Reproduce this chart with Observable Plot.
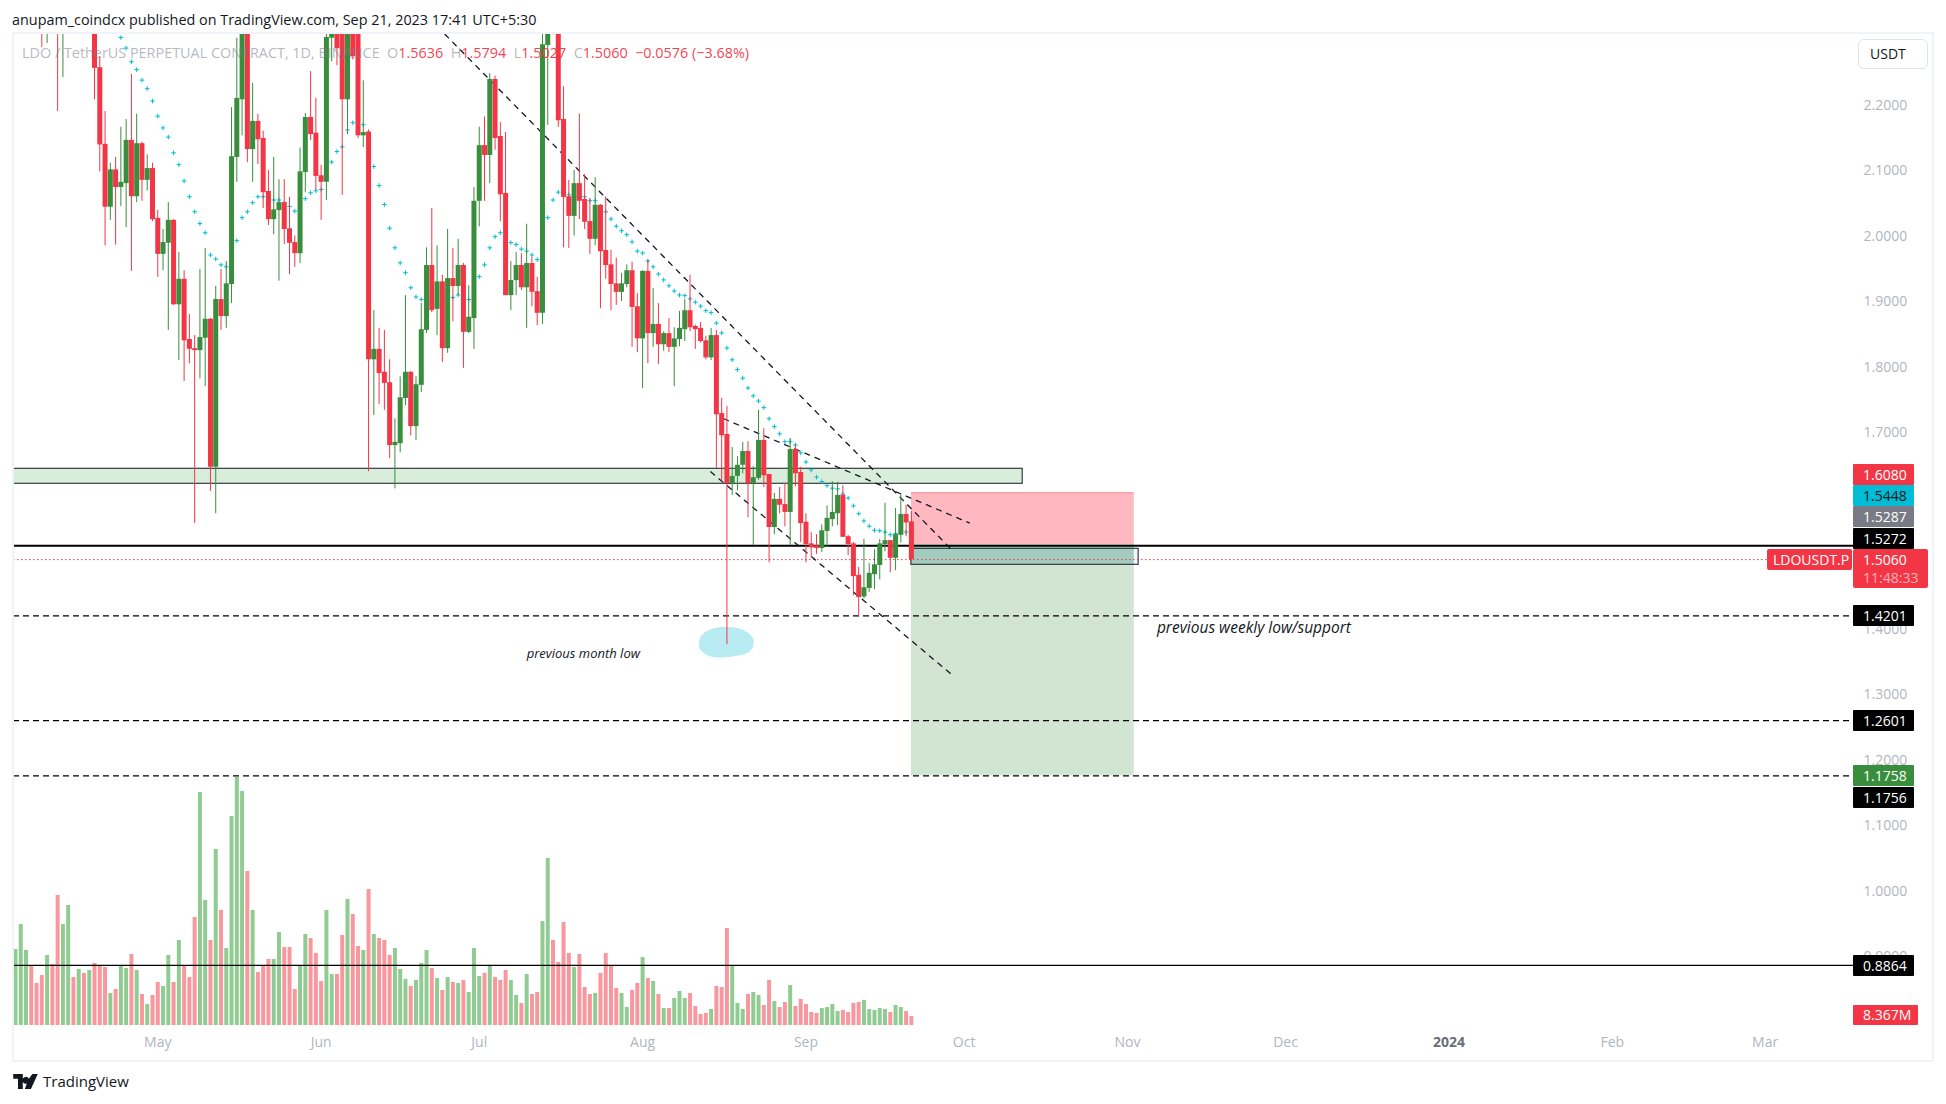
<!DOCTYPE html>
<html><head><meta charset="utf-8">
<script src="https://cdn.jsdelivr.net/npm/d3@7"></script>
<script src="https://cdn.jsdelivr.net/npm/@observablehq/plot@0.6"></script>
<style>
html,body{margin:0;padding:0;background:#fff;width:1946px;height:1104px;overflow:hidden;font-family:"Open Sans",sans-serif}
#title{position:absolute;left:12px;top:10px;font-size:14.4px;color:#131722;white-space:nowrap}
#frame{position:absolute;left:12px;top:32px;width:1918px;height:1026px;border:2px solid #f0f3fa;pointer-events:none}
#chart{position:absolute;left:0;top:33px}
#legend{position:absolute;left:22px;top:43px;font-size:14.4px;color:rgba(120,123,134,.55);white-space:pre}
#legend b{font-weight:400;color:rgba(242,54,69,.95)}
#usdt{position:absolute;left:1858px;top:39px;width:70px;height:30px;box-sizing:border-box;border:1.5px solid #e0e3eb;border-radius:6px;background:#fff;font-size:14px;line-height:27px;padding-left:11px;color:#131722}
.tag{position:absolute;left:1853px;width:61px;box-sizing:border-box;padding-left:10px;font-size:14px;line-height:21px;height:21px;border-radius:1px}
#footer{position:absolute;left:13px;top:1071px;display:flex;align-items:center;gap:5px;font-size:15px;color:#131722}
</style></head>
<body>
<div id="title">anupam_coindcx published on TradingView.com, Sep 21, 2023 17:41 UTC+5:30</div>
<div id="chart"></div>
<div id="frame"></div>
<div id="legend">LDO / TetherUS PERPETUAL CONTRACT, 1D, BINANCE  O<b>1.5636</b>  H<b>1.5794</b>  L<b>1.5027</b>  C<b>1.5060</b>  <b>−0.0576 (−3.68%)</b></div>
<div id="usdt">USDT</div>
<div id="footer"><svg width="25" height="15" viewBox="0 0 36 22"><path d="M0 0H14V22H7V7H0Z M28 0H36L26 22H17L20 14A5 5 0 1 1 23 7Z" fill="#131722"/></svg><span>TradingView</span></div>
<script>
const opens=[2.36,2.44,2.50,2.56,2.50,2.44,2.38,2.42,2.38,2.36,
2.40,2.46,2.42,2.47,2.42,2.36,2.257,2.140,2.044,2.101,
2.074,2.080,2.146,2.060,2.141,2.085,2.103,2.027,1.972,1.989,
2.024,1.895,1.934,1.842,1.828,1.825,1.844,1.873,1.647,1.903,
1.877,1.926,2.120,2.208,2.34,2.132,2.175,2.149,2.068,2.025,
2.039,2.051,2.011,1.990,1.973,2.097,2.181,2.157,2.092,2.082,
2.302,2.33,2.36,2.208,2.35,2.33,2.153,2.159,1.811,1.827,
1.792,1.776,1.680,1.683,1.752,1.792,1.709,1.772,1.856,1.955,
1.888,1.930,1.828,1.935,1.923,1.955,1.853,1.874,2.053,2.138,
2.123,2.239,2.152,2.065,1.909,1.932,1.955,1.921,1.958,1.915,
1.882,2.291,2.37,2.32,2.178,2.060,2.030,2.080,2.056,2.022,
1.995,2.047,1.978,1.956,1.927,1.914,1.926,1.947,1.892,1.843,
1.946,1.851,1.865,1.834,1.851,1.830,1.842,1.857,1.886,1.862,
1.859,1.840,1.814,1.848,1.729,1.697,1.622,1.633,1.650,1.671,
1.622,1.630,1.688,1.636,1.555,1.598,1.590,1.578,1.674,1.639,
1.563,1.530,1.527,1.523,1.549,1.567,1.576,1.604,1.541,1.530,
1.482,1.449,1.462,1.483,1.497,1.529,1.535,1.508,1.543,1.575,1.5636];
const closes=[2.44,2.50,2.56,2.50,2.44,2.38,2.42,2.38,2.36,2.40,
2.46,2.42,2.47,2.42,2.48,2.256,2.139,2.044,2.101,2.074,
2.082,2.146,2.060,2.141,2.085,2.103,2.025,1.972,1.990,2.024,
1.895,1.934,1.840,1.827,1.825,1.845,1.873,1.647,1.903,1.877,
1.927,2.121,2.210,2.33,2.132,2.175,2.147,2.066,2.025,2.040,
2.051,2.010,1.989,1.973,2.098,2.181,2.155,2.091,2.082,2.303,
2.32,2.286,2.208,2.33,2.274,2.153,2.158,1.811,1.827,1.790,
1.775,1.680,1.685,1.753,1.792,1.709,1.773,1.857,1.955,1.886,
1.930,1.828,1.935,1.923,1.955,1.853,1.876,2.053,2.138,2.123,
2.239,2.149,2.063,1.909,1.932,1.955,1.921,1.958,1.914,1.882,
2.292,2.33,2.32,2.176,2.059,2.030,2.080,2.053,2.021,1.995,
2.047,1.976,1.955,1.926,1.914,1.927,1.947,1.891,1.843,1.946,
1.851,1.865,1.834,1.851,1.830,1.843,1.859,1.886,1.860,1.857,
1.839,1.814,1.848,1.727,1.695,1.622,1.633,1.650,1.671,1.622,
1.631,1.688,1.634,1.555,1.598,1.589,1.578,1.674,1.637,1.561,
1.529,1.524,1.523,1.550,1.569,1.578,1.604,1.540,1.529,1.480,
1.448,1.463,1.485,1.498,1.530,1.535,1.508,1.544,1.575,1.562,1.5060];
const highs=[2.48,2.53,2.60,2.60,2.52,2.47,2.45,2.44,2.42,2.43,
2.50,2.50,2.50,2.49,2.50,2.42,2.274,2.190,2.111,2.120,
2.166,2.178,2.247,2.186,2.143,2.124,2.111,2.039,2.010,2.051,
2.025,1.975,1.947,1.880,1.848,1.949,1.981,1.874,1.923,1.949,
1.961,2.196,2.302,2.36,2.36,2.233,2.186,2.160,2.100,2.120,
2.086,2.086,2.059,2.000,2.134,2.187,2.251,2.210,2.108,2.33,
2.34,2.35,2.38,2.35,2.37,2.35,2.237,2.162,1.886,1.859,
1.856,1.811,1.721,1.785,1.909,1.793,1.785,1.897,1.982,2.042,
1.985,1.940,2.010,1.981,1.995,1.958,1.924,2.074,2.166,2.182,
2.248,2.244,2.173,2.158,1.961,1.975,1.973,2.018,1.967,1.937,
2.32,2.35,2.39,2.34,2.228,2.085,2.100,2.186,2.094,2.057,
2.089,2.047,2.060,1.978,1.966,1.943,1.956,1.960,1.912,1.947,
1.963,1.920,1.897,1.854,1.874,1.860,1.885,1.903,1.940,1.864,
1.868,1.847,1.859,1.856,1.752,1.740,1.677,1.663,1.685,1.686,
1.648,1.734,1.706,1.636,1.607,1.616,1.622,1.691,1.680,1.647,
1.576,1.547,1.544,1.559,1.588,1.625,1.624,1.619,1.543,1.532,
1.494,1.537,1.500,1.521,1.537,1.592,1.535,1.584,1.605,1.589,1.5794];
const lows=[2.34,2.40,2.46,2.47,2.40,2.288,2.294,2.33,2.190,2.242,
2.35,2.36,2.38,2.38,2.36,2.208,2.098,1.985,2.024,1.986,
2.045,2.013,1.946,2.051,2.053,2.069,2.022,1.937,1.947,1.856,
1.894,1.810,1.778,1.805,1.561,1.782,1.770,1.610,1.576,1.856,
1.859,1.897,2.082,2.153,2.112,2.082,2.109,2.042,2.016,2.002,
1.931,1.987,1.941,1.952,1.958,2.066,2.146,2.070,2.024,2.054,
2.266,2.260,2.062,2.155,2.269,2.149,2.135,1.640,1.726,1.743,
1.734,1.660,1.614,1.669,1.741,1.695,1.688,1.761,1.851,1.883,
1.848,1.807,1.821,1.869,1.909,1.798,1.851,1.827,2.014,2.053,
2.080,2.131,2.022,1.909,1.886,1.909,1.917,1.859,1.892,1.863,
1.865,2.169,2.307,2.166,1.982,1.981,2.000,2.025,2.010,1.972,
1.985,1.889,1.934,1.886,1.894,1.900,1.921,1.830,1.822,1.767,
1.805,1.830,1.804,1.824,1.822,1.770,1.831,1.839,1.854,1.827,
1.837,1.811,1.810,1.645,1.627,1.376,1.604,1.611,1.637,1.570,
1.527,1.627,1.616,1.501,1.544,1.576,1.556,1.527,1.617,1.532,
1.501,1.509,1.514,1.517,1.526,1.556,1.558,1.540,1.512,1.451,
1.419,1.446,1.456,1.460,1.475,1.518,1.486,1.489,1.531,1.541,1.5027];
const volumesM=[70.7,93.9,69.8,55.2,39.1,46.5,65.1,56.7,120.9,93.9,
111.6,44.6,52.1,48.4,51.2,57.7,55.2,53.9,29.8,33.5,
55.8,53.0,66.0,51.2,28.8,19.5,27.9,40.0,36.3,65.1,
40.0,79.1,55.8,44.6,100.4,216.7,116.3,79.1,163.7,107.0,
71.6,194.4,230.6,217.6,143.2,107.0,49.3,55.8,61.4,61.4,
86.5,72.5,72.5,33.5,55.8,84.6,80.9,67.0,40.9,107.0,
47.4,47.4,83.7,117.2,103.2,73.5,69.8,126.5,84.6,80.9,
79.1,65.1,71.6,52.1,42.8,36.3,41.9,57.7,69.8,53.0,
43.7,32.6,44.6,40.0,39.1,41.9,30.7,71.6,45.6,48.4,
55.8,44.6,41.9,51.2,41.9,27.9,20.5,47.4,28.8,30.7,
96.7,155.3,79.1,58.6,95.8,67.0,53.9,66.0,35.3,28.8,
29.8,48.4,67.0,55.8,34.4,29.8,16.7,32.6,39.1,63.2,
43.7,40.9,28.8,15.8,15.8,25.1,31.6,25.1,29.8,17.7,
10.2,11.2,14.9,36.3,35.3,90.2,55.8,20.5,14.9,28.8,
30.7,27.9,18.6,41.9,22.3,16.7,21.4,37.2,17.7,24.2,
19.5,12.1,11.2,15.8,16.7,19.5,13.0,14.0,12.1,20.5,
21.4,23.3,14.9,14.0,15.8,14.9,12.1,18.6,16.7,13.0,8.367];
const sar=[null,null,null,null,null,null,null,null,null,null,
null,null,null,null,null,null,null,null,null,null,
2.303,2.287,2.266,2.254,2.238,2.225,2.206,2.183,2.165,2.151,
2.127,2.109,2.084,2.060,2.037,2.019,2.005,1.971,1.965,1.956,
1.953,1.958,1.993,2.028,2.037,2.051,2.060,2.060,2.060,2.055,
2.055,2.050,2.045,2.038,2.047,2.057,2.066,2.069,2.071,2.090,
2.113,2.129,2.136,2.162,2.173,2.179,2.170,2.136,2.106,2.077,
2.048,2.012,1.982,1.959,1.944,1.921,1.907,1.903,1.900,1.897,
1.896,1.900,1.902,1.906,1.910,1.905,1.903,1.917,1.938,1.956,
1.982,1.999,2.005,1.994,1.990,1.987,1.980,1.977,1.971,1.964,
1.980,2.028,2.055,2.067,2.065,2.063,2.060,2.060,2.060,2.054,
2.054,2.045,2.037,2.026,2.015,2.008,2.002,1.991,1.977,1.974,
1.962,1.953,1.942,1.933,1.924,1.916,1.910,1.909,1.904,1.899,
1.893,1.886,1.883,1.867,1.852,1.829,1.811,1.796,1.783,1.768,
1.756,1.748,1.738,1.721,1.709,1.698,1.686,1.686,1.681,1.669,
1.655,1.643,1.632,1.625,1.619,1.615,1.614,1.606,1.600,1.588,
1.576,1.565,1.557,1.551,1.550,1.548,1.544,1.546,1.547,1.548,1.5448];
const yTicks=[0.9,1.0,1.1,1.2,1.3,1.4,1.7,1.8,1.9,2.0,2.1,2.2];
const monthTicks=["2023-05-01","2023-06-01","2023-07-01","2023-08-01","2023-09-01","2023-10-01","2023-11-01","2023-12-01","2024-02-01","2024-03-01"];
const monthNames=["May","Jun","Jul","Aug","Sep","Oct","Nov","Dec","Feb","Mar"];
const trendLines=[
 [["2023-06-24T12:00Z",2.308],["2023-09-28T10:00Z",1.523]],
 [["2023-08-13T22:00Z",1.640],["2023-09-29T02:00Z",1.3275]],
 [["2023-08-16T10:00Z",1.721],["2023-10-02T00:00Z",1.562]]
];
const blob=[["2023-08-12T00:00Z",1.388],["2023-08-14T00:00Z",1.400],["2023-08-17T00:00Z",1.403],["2023-08-20T00:00Z",1.399],["2023-08-22T00:00Z",1.385],["2023-08-21T12:00Z",1.367],["2023-08-18T00:00Z",1.358],["2023-08-14T00:00Z",1.358],["2023-08-11T20:00Z",1.370]];
const start=Date.UTC(2023,3,4), dayMs=864e5;
const green="#388e3c", red="#f23645", volGreen="#90cc92", volRed="#f9979f";
const bars=opens.map((o,i)=>({date:new Date(start+i*dayMs),o,c:closes[i],h:highs[i],l:lows[i],v:volumesM[i],s:sar[i],up:closes[i]>=o}));
const volBase=0.7947, volK=0.001642;
const xDomain=[new Date("2023-04-03T15:00Z"),new Date("2024-03-17T18:30Z")];
const D=s=>new Date(s);
const hline=(v,o)=>Plot.ruleY([v],{x1:xDomain[0],x2:xDomain[1],...o});
const font='"Open Sans",sans-serif';
const plot=Plot.plot({
 width:1946,height:1027,marginLeft:13,marginRight:93,marginTop:0,marginBottom:35,
 style:{fontFamily:font,fontSize:"14px",background:"transparent"},
 x:{type:"utc",domain:xDomain,label:null},
 y:{domain:[volBase,2.3092],label:null},
 marks:[
  Plot.ruleX(bars,{x:"date",y1:volBase,y2:d=>volBase+d.v*volK,stroke:d=>d.up?volGreen:volRed,strokeWidth:4,clip:true}),
  Plot.axisY({anchor:"right",ticks:yTicks,tickFormat:".4f",tickSize:0,tickPadding:10,color:"#b2b5be",label:null}),
  Plot.axisX({ticks:monthTicks.map(D),tickFormat:d=>monthNames[monthTicks.findIndex(m=>+D(m)===+d)],tickSize:0,tickPadding:12,color:"#b2b5be",label:null}),
  Plot.axisX({ticks:[D("2024-01-01")],tickFormat:()=>"2024",tickSize:0,tickPadding:12,color:"#6a6d78",fontWeight:"bold",label:null}),
  Plot.rect([0],{x1:xDomain[0],x2:D("2023-10-12T03:00Z"),y1:1.6217,y2:1.6446,fill:"#d9eeda",stroke:"#363a45",strokeWidth:1.2,clip:true}),
  Plot.rect([0],{x1:D("2023-09-21"),x2:D("2023-11-02T07:00Z"),y1:1.5287,y2:1.608,fill:"#ffb7c0",clip:true}),
  Plot.ruleY([1.608],{x1:D("2023-09-21"),x2:D("2023-11-02T07:00Z"),stroke:"#ff8f9b",strokeWidth:1}),
  Plot.rect([0],{x1:D("2023-09-21"),x2:D("2023-11-02T07:00Z"),y1:1.1758,y2:1.5287,fill:"#d2e5d3"}),
  Plot.rect([0],{x1:D("2023-09-21"),x2:D("2023-11-02T07:00Z"),y1:1.498,y2:1.5287,fill:"#5aa37e",fillOpacity:0.3}),
  Plot.rect([0],{x1:D("2023-09-21"),x2:D("2023-11-03T03:00Z"),y1:1.498,y2:1.5224,fill:"#2196f3",fillOpacity:0.08,stroke:"#363a45",strokeWidth:1.2}),
  Plot.line(blob,{x:d=>D(d[0]),y:d=>d[1],curve:"catmull-rom-closed",fill:"#b9ecf2",stroke:"none"}),
  hline(1.5272,{stroke:"#000",strokeWidth:2}),
  hline(1.4201,{stroke:"#000",strokeWidth:1.2,strokeDasharray:"6 4"}),
  hline(1.2601,{stroke:"#000",strokeWidth:1.2,strokeDasharray:"6 4"}),
  hline(1.1757,{stroke:"#000",strokeWidth:1.2,strokeDasharray:"6 4"}),
  hline(0.8864,{stroke:"#000",strokeWidth:1.2}),
  hline(1.506,{stroke:red,strokeWidth:1,strokeDasharray:"1.5 2.5"}),
  ...trendLines.map(t=>Plot.line(t,{x:d=>D(d[0]),y:d=>d[1],stroke:"#131722",strokeWidth:1.3,strokeDasharray:"5 6",clip:true})),
  Plot.text(["previous month low"],{x:D("2023-07-20T18:00Z"),y:1.3615,fontStyle:"italic",fontSize:13,fill:"#131722"}),
  Plot.text(["previous weekly low/support"],{x:D("2023-11-25"),y:1.4015,fontStyle:"italic",fontSize:15.5,fill:"#131722"}),
  Plot.dot(bars.filter(d=>d.s!=null),{x:"date",y:"s",symbol:"plus",r:1.6,stroke:"#00bcd4",strokeWidth:1,clip:true}),
  Plot.ruleX(bars,{x:"date",y1:"l",y2:"h",stroke:d=>d.up?green:red,strokeWidth:1,clip:true}),
  Plot.ruleX(bars,{x:"date",y1:"o",y2:"c",stroke:d=>d.up?green:red,strokeWidth:5,clip:true})
 ]
});
document.getElementById("chart").appendChild(plot);
const y=plot.scale("y");
const tags=[
 {t:"1.6080",v:1.608,shift:-17.8,bg:red,fg:"#fff"},
 {t:"1.5448",v:1.5448,shift:-38.2,bg:"#00bcd4",fg:"#131722"},
 {t:"1.5287",v:1.5287,shift:-27.6,bg:"#787b86",fg:"#fff"},
 {t:"1.5272",v:1.5272,shift:-6.7,bg:"#000",fg:"#fff"},
 {t:"1.4201",v:1.4201,shift:0,bg:"#000",fg:"#fff"},
 {t:"1.2601",v:1.2601,shift:0,bg:"#000",fg:"#fff"},
 {t:"1.1758",v:1.1758,shift:0,bg:green,fg:"#fff"},
 {t:"1.1756",v:1.1756,shift:21.8,bg:"#000",fg:"#fff"},
 {t:"0.8864",v:0.8864,shift:0.8,bg:"#000",fg:"#fff"},
 {t:"8.367M",v:volBase+8.367*volK,shift:-1,bg:red,fg:"#fff",w:65,h:20}
];
const addTag=(a)=>{const e=document.createElement("div");e.className="tag";e.textContent=a.t;
 const h=a.h||21;e.style.cssText+=`top:${33+y.apply(a.v)+a.shift-h/2}px;background:${a.bg};color:${a.fg};height:${h}px;line-height:${h}px;`+(a.w?`width:${a.w}px;`:"");
 document.body.appendChild(e);return e;};
tags.forEach(addTag);
const cur=document.createElement("div");cur.className="tag";
cur.style.cssText=`top:${33+y.apply(1.506)-10}px;width:75px;height:39px;background:${red};color:#fff;line-height:18px;padding-top:2px;border-radius:2px`;
cur.innerHTML='1.5060<br><span style="color:#fdb3ba">11:48:33</span>';document.body.appendChild(cur);
const sym=document.createElement("div");sym.className="tag";
sym.style.cssText=`left:1767px;top:${33+y.apply(1.506)-10}px;width:85px;background:${red};color:#fff;padding-left:6px;border-radius:2px`;
sym.textContent="LDOUSDT.P";document.body.appendChild(sym);
</script>
</body></html>
